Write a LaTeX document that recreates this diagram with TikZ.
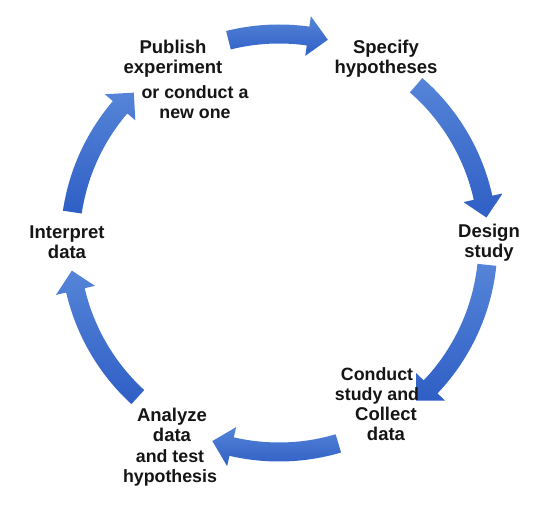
\documentclass[tikz,border=0pt]{standalone}
\usepackage{fontspec}
\setmainfont{Liberation Sans}
\usetikzlibrary{calc}
\definecolor{cyclelight}{HTML}{5584D8}
\definecolor{cycledark}{HTML}{2F5FC5}
\definecolor{labeltext}{HTML}{151515}
\newcommand\cyclearrow[2]{%
  \pgfmathsetmacro\headbase{#2+5.5}%
  \shade[cyclefill] ($(c)+(#1:21.85)$) arc[start angle=#1,end angle=\headbase,radius=21.85]
    -- ($(c)+(\headbase:22.9)$) -- ($(c)+(#2:20.9)$) -- ($(c)+(\headbase:18.9)$)
    -- ($(c)+(\headbase:19.95)$) arc[start angle=\headbase,end angle=#1,radius=19.95] -- cycle;}
\begin{document}
\begin{tikzpicture}[x=10pt,y=10pt,
  cyclefill/.style={top color=cyclelight,bottom color=cycledark},
  steplabel/.style={align=center,text=labeltext,inner sep=0pt,
    font=\bfseries\fontsize{18.5}{20}\selectfont},
  sidelabel/.style={steplabel,font=\bfseries\fontsize{17.8}{20}\selectfont}]
\useasboundingbox[fill=white] (0,0) rectangle (55.1,51.1);
\coordinate (c) at (27.9,26.8);
\cyclearrow{104}{76.5}
\cyclearrow{49}{7}
\cyclearrow{-6}{-49}
\cyclearrow{-73.5}{-108.6}
\cyclearrow{227.5}{187.6}
\cyclearrow{171.5}{134}
\node[steplabel] (publish) at (17.3,45.2) {Publish\\experiment};
\node[sidelabel] (newone) at (19.5,40.9) {or conduct a\\new one};
\node[steplabel] (specify) at (38.6,45.2) {Specify\\hypotheses};
\node[steplabel] (design) at (48.9,26.8) {Design\\study};
\node[sidelabel] (conduct) at (37.7,12.5) {Conduct\\study and};
\node[steplabel] (collect) at (38.6,8.7) {Collect\\data};
\node[steplabel] (analyze) at (17.2,8.65) {Analyze\\data};
\node[sidelabel] (testhyp) at (17.0,4.35) {and test\\hypothesis};
\node[steplabel] (interpret) at (6.7,26.9) {Interpret\\data};
\end{tikzpicture}
\end{document}
